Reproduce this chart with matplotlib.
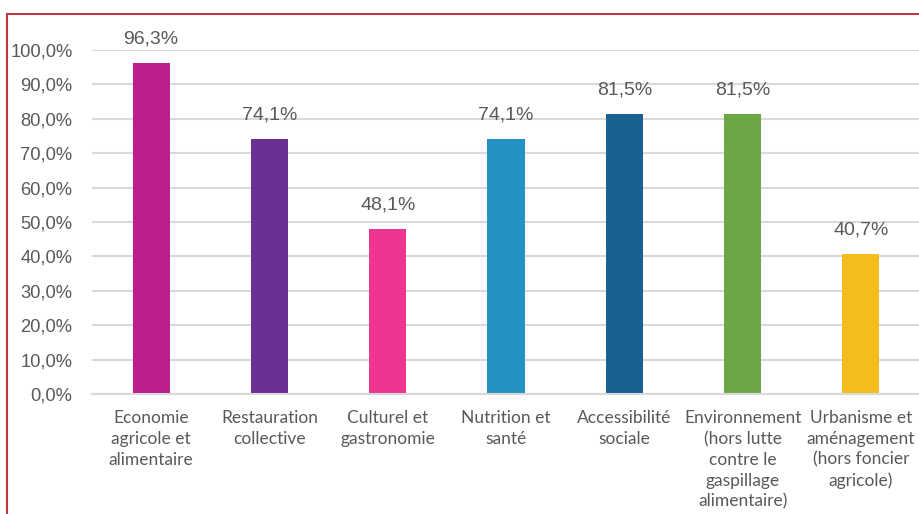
import matplotlib
matplotlib.use("Agg")
import matplotlib.pyplot as plt
from matplotlib.lines import Line2D
from matplotlib.ticker import FuncFormatter, MultipleLocator

categories = [
    "Economie\nagricole et\nalimentaire",
    "Restauration\ncollective",
    "Culturel et\ngastronomie",
    "Nutrition et\nsanté",
    "Accessibilité\nsociale",
    "Environnement\n(hors lutte\ncontre le\ngaspillage\nalimentaire)",
    "Urbanisme et\naménagement\n(hors foncier\nagricole)",
]
values = [96.3, 74.1, 48.1, 74.1, 81.5, 81.5, 40.7]
colors = ["#BE1D8C", "#6A2F93", "#EE3592", "#2592C4", "#196192", "#6CA745", "#F5BC1E"]

text_color = "#595959"
grid_color = "#D9D9D9"

fig = plt.figure(figsize=(9.19, 5.14), dpi=100)
ax = fig.add_axes([92 / 919, 1 - 394 / 514, 828 / 919, 344 / 514])

x = range(len(categories))
ax.bar(x, values, width=0.315, color=colors, zorder=3)

for xi, v in zip(x, values):
    ax.annotate(f"{v:.1f}%".replace(".", ","), (xi, v), xytext=(0, 11),
                textcoords="offset points", ha="center", va="bottom",
                fontsize=14, family="Liberation Sans", color=text_color,
                annotation_clip=False)

ax.set_xlim(-0.5, len(categories) - 0.5)
ax.set_ylim(0, 100)
ax.yaxis.set_major_locator(MultipleLocator(10))
ax.yaxis.set_major_formatter(FuncFormatter(lambda v, _: f"{v:.1f}%".replace(".", ",")))
ax.grid(axis="y", color=grid_color, linewidth=1.5, zorder=0)
ax.set_axisbelow(True)

for side in ("top", "right", "left"):
    ax.spines[side].set_visible(False)
ax.spines["bottom"].set_color(grid_color)
ax.spines["bottom"].set_linewidth(1.5)
ax.spines["bottom"].set_zorder(4)

ax.tick_params(axis="y", length=0, pad=14, labelsize=13.2, labelcolor=text_color)
ax.tick_params(axis="x", length=0, pad=11.5)
for lbl in ax.get_yticklabels():
    lbl.set_family("Liberation Sans")

ax.set_xticks(list(x))
ax.set_xticklabels(categories, fontsize=12.5, family="Lato", color=text_color,
                   linespacing=1.37, va="top")

# chart frame
fig.add_artist(Line2D([7 / 919, 7 / 919], [0, 1 - 14 / 514], transform=fig.transFigure,
                      color="#C0393F", linewidth=1.5))
fig.add_artist(Line2D([7 / 919, 1], [1 - 14 / 514, 1 - 14 / 514], transform=fig.transFigure,
                      color="#C0393F", linewidth=1.5))

fig.savefig("out.png", dpi=100)
